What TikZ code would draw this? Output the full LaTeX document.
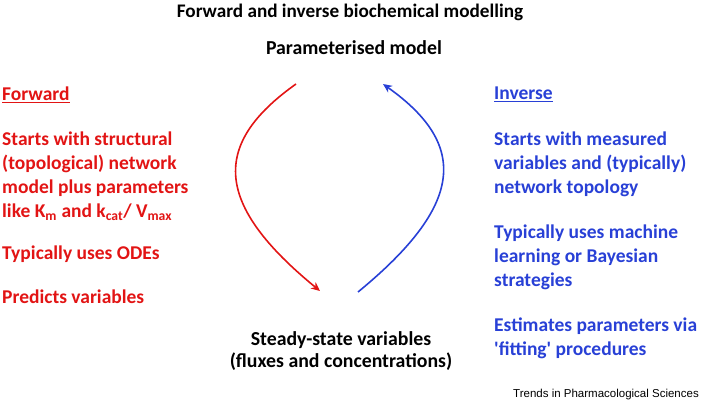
\documentclass[tikz,border=0pt]{standalone}
\usepackage{fontspec}
\setmainfont{Carlito}
\newfontfamily\trendsfont{Liberation Sans}
\usetikzlibrary{arrows.meta}
\definecolor{fwdred}{RGB}{226,20,20}
\definecolor{invblue}{RGB}{40,64,214}
\tikzset{
  title/.style={font=\bfseries\fontsize{19.2}{22}\selectfont, anchor=center, inner sep=0pt},
  mid/.style={font=\bfseries\fontsize{19.8}{21.5}\selectfont, align=center, anchor=center, inner sep=0pt},
  fwdtxt/.style={font=\bfseries\fontsize{19.5}{23.8}\selectfont, text=fwdred, align=left, anchor=north west, inner sep=0pt},
  invtxt/.style={font=\bfseries\fontsize{19.5}{23.8}\selectfont, text=invblue, align=left, anchor=north west, inner sep=0pt},
  arr/.style={line width=1.6pt, -{Stealth[length=9pt,width=8pt]}}
}
\begin{document}
\begin{tikzpicture}[x=1pt,y=-1pt]
\useasboundingbox (0,0) rectangle (701,406);
\node[title] (title) at (350,12) {Forward and inverse biochemical modelling};
\node[mid] (param) at (354,47.5) {Parameterised model};
\node[mid] (steady) at (341,351) {Steady-state variables\\(fluxes and concentrations)};

\node[fwdtxt] (fhead) at (2,87) {\underline{Forward}};
\node[fwdtxt] (f1) at (2,132) {Starts with structural\\(topological) network\\model plus parameters\\like K\textsubscript{m} and k\textsubscript{cat}/ V\textsubscript{max}};
\node[fwdtxt] (f2) at (2,246) {Typically uses ODEs};
\node[fwdtxt] (f3) at (2,290) {Predicts variables};

\node[invtxt] (ihead) at (494,87) {\underline{Inverse}};
\node[invtxt] (i1) at (494,132) {Starts with measured\\variables and (typically)\\network topology};
\node[invtxt] (i2) at (494,225) {Typically uses machine\\learning or Bayesian\\strategies};
\node[invtxt] (i3) at (494,318) {Estimates parameters via\\\textquotesingle fitting\textquotesingle\ procedures};

\node[font=\trendsfont\fontsize{11.5}{13}\selectfont, anchor=east, inner sep=0pt] (trends) at (699,395) {Trends in Pharmacological Sciences};

\coordinate (rs) at (296,84);
\coordinate (re) at (320,291);
\coordinate (bs) at (358,292);
\coordinate (be) at (383,84);
\draw[arr, fwdred] (rs) .. controls (210,145) and (215,205) .. (re);
\draw[arr, invblue] (bs) .. controls (464,205) and (469,145) .. (be);
\end{tikzpicture}
\end{document}
